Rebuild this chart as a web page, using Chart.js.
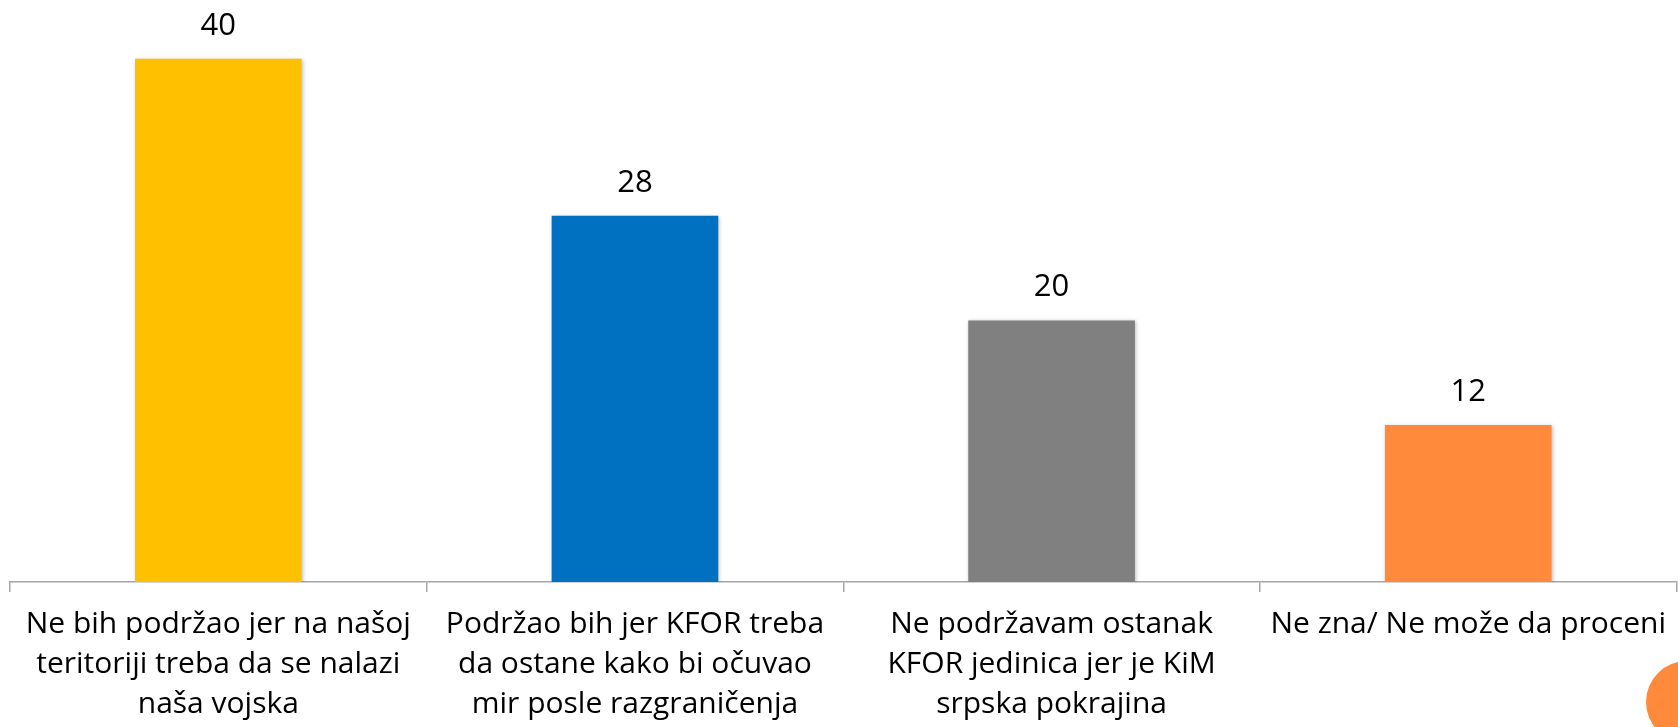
<!DOCTYPE html>
<html>
<head>
<meta charset="utf-8">
<script src="https://cdn.jsdelivr.net/npm/chart.js@4"></script>
<style>
  body { margin: 0; background: #fff; overflow: hidden; }
  #wrap { position: relative; width: 1678px; height: 727px; }
  #dot { position: absolute; left: 1646px; top: 661px; width: 82px; height: 82px; border-radius: 50%; background: #ff8a3c; }
</style>
</head>
<body>
<div id="wrap">
  <canvas id="c"></canvas>
  <div id="dot"></div>
</div>
<script>
// odgovori – procenti
const labels = [
  ['Ne bih podržao jer na našoj', 'teritoriji treba da se nalazi', 'naša vojska'],
  ['Podržao bih jer KFOR treba', 'da ostane kako bi očuvao', 'mir posle razgraničenja'],
  ['Ne podržavam ostanak', 'KFOR jedinica jer je KiM', 'srpska pokrajina'],
  ['Ne zna/ Ne može da proceni'],
];
const values = [40, 28, 20, 12];
const colors = ['#ffc000', '#0070c0', '#808080', '#ff8a3c'];

const FONT = '"Open Sans"';

// vrednost iznad stubića
const valueLabels = {
  id: 'valueLabels',
  afterDatasetsDraw(chart) {
    const { ctx } = chart;
    ctx.save();
    ctx.font = `31px ${FONT}`;
    ctx.fillStyle = '#000';
    ctx.textAlign = 'center';
    ctx.textBaseline = 'alphabetic';
    chart.getDatasetMeta(0).data.forEach((bar, i) => {
      ctx.fillText(values[i], bar.x, bar.y - 24);
    });
    ctx.restore();
  }
};

// blaga senka oko stubića
const barShadow = {
  id: 'barShadow',
  beforeDatasetsDraw(chart) {
    const ctx = chart.ctx;
    ctx.save();
    ctx.shadowColor = 'rgba(0,0,0,0.25)';
    ctx.shadowBlur = 4;
    ctx.shadowOffsetX = 1;
    ctx.shadowOffsetY = 1;
  },
  afterDatasetsDraw(chart) { chart.ctx.restore(); }
};

new Chart(document.getElementById('c'), {
  type: 'bar',
  data: {
    labels,
    datasets: [{ data: values, backgroundColor: colors, borderWidth: 0, categoryPercentage: 0.4, barPercentage: 1 }],
  },
  plugins: [barShadow, valueLabels],
  options: {
    responsive: true, maintainAspectRatio: false, animation: false,
    layout: { padding: { left: 10, right: 0, top: 0, bottom: -9 } },
    plugins: { legend: { display: false }, tooltip: { enabled: false } },
    scales: {
      x: {
        grid: { drawOnChartArea: false, tickLength: 10, color: '#a6a6a6', lineWidth: 1.5 },
        border: { color: '#a6a6a6', width: 1.5 },
        ticks: { color: '#000', padding: 12, maxRotation: 0, autoSkip: false, font: { family: 'Open Sans', size: 30, lineHeight: 40 / 30 } },
      },
      y: { display: false, min: 0, max: 44.5 },
    },
  },
});
</script>
</body>
</html>
